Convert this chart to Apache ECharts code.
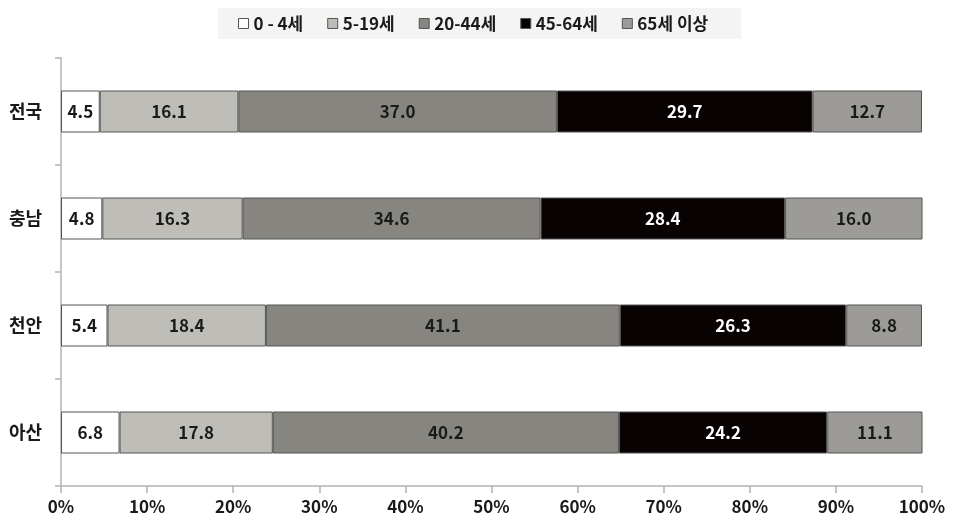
<!DOCTYPE html>
<html><head><meta charset="utf-8">
<script src="https://cdn.jsdelivr.net/npm/echarts@6/dist/echarts.min.js"></script>
<style>html,body{margin:0;padding:0;background:#fff}#c{width:961px;height:527px}</style>
</head><body><div id="c"></div>
<script>
const categories = ['전국', '충남', '천안', '아산'];
const seriesNames = ['0 - 4세', '5-19세', '20-44세', '45-64세', '65세 이상'];
const age0_4 = [4.5, 4.8, 5.4, 6.8];
const age5_19 = [16.1, 16.3, 18.4, 17.8];
const age20_44 = [37.0, 34.6, 41.1, 40.2];
const age45_64 = [29.7, 28.4, 26.3, 24.2];
const age65 = [12.7, 16.0, 8.8, 11.1];
const xTicks = [0, 10, 20, 30, 40, 50, 60, 70, 80, 90, 100];

const colors = ['#ffffff', '#bfbdb8', '#878580', '#080302', '#9d9b97'];
const labelColors = ['#1a1a1a', '#1a1a1a', '#1a1a1a', '#ffffff', '#1a1a1a'];
const values = [age0_4, age5_19, age20_44, age45_64, age65];
const FONT = '"Noto Sans CJK KR", "Noto Sans", sans-serif';

const chart = echarts.init(document.getElementById('c'), null, {renderer: 'canvas'});
chart.setOption({
  animation: false,
  textStyle: {fontFamily: FONT},
  legend: {
    top: 8, left: 218,
    data: seriesNames,
    backgroundColor: '#f4f4f4',
    padding: [7, 33, 7, 20],
    itemWidth: 10, itemHeight: 10, itemGap: 24,
    icon: 'rect',
    textStyle: {fontFamily: FONT, fontSize: 17, fontWeight: 'bold', color: '#1a1a1a'},
    itemStyle: {borderColor: '#555', borderWidth: 1}
  },
  grid: {left: 61, right: 39, top: 58, bottom: 41, containLabel: false},
  xAxis: {
    type: 'value', min: 0, max: 100, interval: 10,
    axisLine: {show: true, lineStyle: {color: '#b3b3b3', width: 1.5}},
    axisTick: {show: true, length: 7, lineStyle: {color: '#b3b3b3', width: 1.5}},
    splitLine: {show: false},
    axisLabel: {formatter: v => xTicks.includes(v) ? v + '%' : '', fontSize: 17, fontWeight: 'bold', color: '#1a1a1a', margin: 12, fontFamily: FONT}
  },
  yAxis: {
    type: 'category', data: categories, inverse: true,
    axisLine: {show: true, lineStyle: {color: '#b3b3b3', width: 1.5}},
    axisTick: {show: true, length: 6, alignWithLabel: false, lineStyle: {color: '#b3b3b3', width: 1.5}},
    axisLabel: {fontSize: 18, fontWeight: 'bold', color: '#1a1a1a', margin: 19, fontFamily: FONT}
  },
  series: seriesNames.map((n, i) => ({
    name: n, type: 'bar', stack: 'total', data: values[i],
    barWidth: 42,
    itemStyle: {color: colors[i], borderColor: '#555', borderWidth: 1},
    label: {
      show: true, position: 'inside',
      formatter: p => p.value.toFixed(1),
      fontSize: 17, fontWeight: 'bold', color: labelColors[i], fontFamily: FONT
    }
  }))
});
</script></body></html>
